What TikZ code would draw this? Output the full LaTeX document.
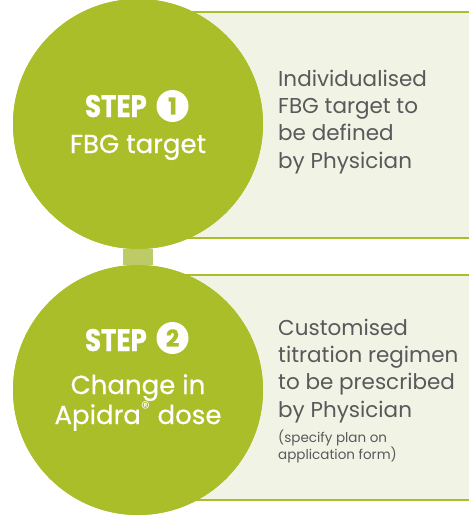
\documentclass[tikz,border=0pt]{standalone}
\usepackage{fontspec}
\setmainfont{Poppins}
\newfontfamily\heavyfont[FakeBold=1.2]{Poppins}
\newfontfamily\midfont[FakeBold=0.6]{Poppins}
\usetikzlibrary{positioning}

\definecolor{leaf}{HTML}{A9BE28}
\definecolor{leafpale}{HTML}{F1F4E5}
\definecolor{leaflight}{HTML}{BDCB67}
\definecolor{ink}{HTML}{58595B}

\tikzset{
  stepdisc/.style={circle, fill=leaf, minimum size=250pt, inner sep=0pt},
  numdisc/.style={circle, fill=white, text=leaf, minimum size=32pt, inner sep=0pt,
    font=\fontsize{23}{23}\selectfont\heavyfont\bfseries},
  steptag/.style={text=white, inner sep=0pt, font=\fontsize{31}{31}\selectfont\heavyfont\bfseries},
  steptext/.style={text=white, inner sep=0pt, align=center, font=\fontsize{26}{30}\selectfont\midfont},
  notebox/.style={rectangle, fill=leafpale, minimum width=299pt, inner sep=0pt},
  rim/.style={draw=leaf, line width=2pt},
  notetext/.style={text=ink, inner sep=0pt, align=left, anchor=base west,
    font=\fontsize{21.5}{27.2}\selectfont},
  smallnote/.style={text=ink, inner sep=0pt, align=left, anchor=base west,
    font=\fontsize{13.5}{16.5}\selectfont},
  link/.style={draw=leaflight, line width=30pt}
}

\begin{document}
\begin{tikzpicture}[x=1pt,y=-1pt]
\useasboundingbox (0,0) rectangle (469,517);

% note panels behind the discs
\node[notebox, minimum height=226pt] (box1) at (319.5,125) {};
\node[notebox, minimum height=225pt] (box2) at (319.5,387.5) {};
\draw[rim] (box1.north west) -- (box1.north east);
\draw[rim] (box1.south west) -- (box1.south east);
\draw[rim] (box2.north west) -- (box2.north east);
\draw[rim] (box2.south west) -- (box2.south east);

% discs and the bar joining them
\node[stepdisc] (step1) at (138,124) {};
\node[stepdisc] (step2) at (138,390) {};
\draw[link] (step1.south) -- (step2.north);
\node[stepdisc] at (step1) {};
\node[stepdisc] at (step2) {};

% step 1 (multi-line nodes sit on their last baseline)
\node[steptag, anchor=base east] (tag1) at (147,117) {\scalebox{0.84}[1]{STEP}};
\node[numdisc] (num1) at (172.5,106) {1};
\node[steptext, anchor=base] (what1) at (138,153) {FBG target};
\node[notetext] (note1) at (278,168) {Individualised\\FBG target to\\be defined\\by Physician};

% step 2
\node[steptag, anchor=base east] (tag2) at (147,351) {\scalebox{0.84}[1]{STEP}};
\node[numdisc] (num2) at (172.5,338) {2};
\node[steptext, anchor=base] (what2) at (138,424) {Change in\\Apidra\textsuperscript{\normalfont®} dose};
\node[notetext] (note2) at (278,417) {Customised\\titration regimen\\to be prescribed\\by Physician};
\node[smallnote] (hint2) at (278,459) {(specify plan on\\application form)};
\end{tikzpicture}
\end{document}
